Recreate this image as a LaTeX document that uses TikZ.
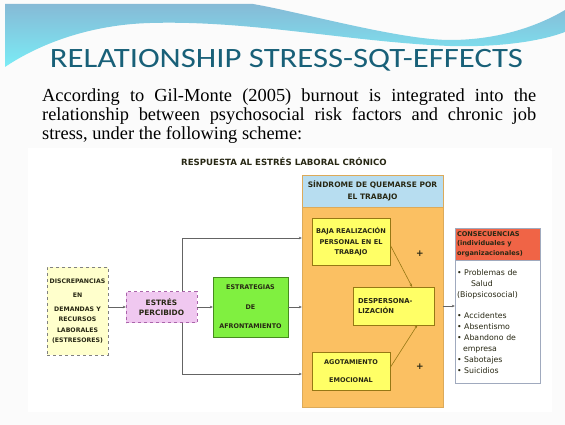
\documentclass[tikz,border=0pt]{standalone}
\usepackage{fontspec}
\usepackage{graphicx}
\setmainfont{Liberation Serif}
\newfontfamily\titlefont{Carlito}
\newfontfamily\dfont{DejaVu Sans}
\usetikzlibrary{arrows.meta}
\definecolor{bgcol}{RGB}{251,251,251}
\definecolor{titlecol}{RGB}{24,96,120}
\definecolor{bantop}{RGB}{134,186,214}
\definecolor{banbot}{RGB}{122,236,246}
\definecolor{orangefill}{RGB}{251,192,98}
\definecolor{orangeline}{RGB}{220,170,90}
\definecolor{headblue}{RGB}{183,221,240}
\definecolor{yellowfill}{RGB}{255,255,102}
\definecolor{yellowline}{RGB}{150,120,20}
\definecolor{greenfill}{RGB}{128,240,64}
\definecolor{greenline}{RGB}{70,140,30}
\definecolor{pinkfill}{RGB}{240,200,240}
\definecolor{pinkline}{RGB}{170,100,170}
\definecolor{paleyellow}{RGB}{255,255,204}
\definecolor{consred}{RGB}{240,100,70}
\definecolor{consline}{RGB}{160,170,190}
\definecolor{linecol}{RGB}{100,100,100}
\definecolor{txtcol}{RGB}{40,40,20}
\begin{document}
\begin{tikzpicture}[x=1pt,y=-1pt,
  box/.style={draw, inner sep=0pt, align=center, text=txtcol},
  bt/.style={font=\dfont\bfseries\fontsize{#1}{#1}\selectfont},
  arr/.style={draw=linecol, line width=0.6pt, -{Stealth[length=3pt,width=2.6pt]}},
  inarr/.style={draw=yellowline, line width=0.6pt, -{Stealth[length=3pt,width=2.6pt]}},
  plus/.style={font=\dfont\bfseries\fontsize{9}{9}\selectfont, text=txtcol, inner sep=0pt}
]
\useasboundingbox (0,0) rectangle (565,425);
\fill[bgcol] (0,0) rectangle (565,425);
% banner
\shade[top color=bantop, bottom color=banbot]
  (5,4) -- (253,4) .. controls (300,12) and (400,40) .. (450,40)
  .. controls (500,40) and (540,25) .. (565,10) -- (565,32)
  .. controls (530,45) and (480,47) .. (450,46)
  .. controls (350,42) and (250,20) .. (150,23)
  .. controls (80,25) and (30,50) .. (5,67) -- cycle;
% title
\node[anchor=base, inner sep=0pt, text=titlecol, font=\titlefont\fontsize{28}{28}\selectfont] (title) at (286.5,68) {\scalebox{1.17}[1]{RELATIONSHIP STRESS-SQT-EFFECTS}};
% paragraph
\node[anchor=north west, inner sep=0pt, text width=494pt, align=justify, font=\fontsize{18.4}{19}\selectfont] (para) at (42,88.5)
  {According to Gil-Monte (2005) burnout is integrated into the\linebreak relationship between psychosocial risk factors and chronic job\linebreak stress, under the following scheme:};
% diagram background
\fill[white] (28,148) rectangle (552,412);
\node[bt=8.6, text=txtcol, inner sep=0pt] (head) at (284,162) {RESPUESTA AL ESTRÉS LABORAL CRÓNICO};
% boxes
\node[box, fill=paleyellow, draw=gray, dashed, minimum width=61pt, minimum height=88pt, bt=6.2] (disc) at (77.5,311)
  {DISCREPANCIAS\\[8pt] EN\\[8pt] DEMANDAS Y\\[4pt] RECURSOS\\[4pt] LABORALES\\[4pt] (ESTRESORES)};
\node[box, fill=pinkfill, draw=pinkline, dashed, minimum width=71pt, minimum height=31pt, bt=7.4] (perc) at (161.5,307)
  {ESTRÉS\\[3pt] PERCIBIDO};
\node[box, fill=greenfill, draw=greenline, minimum width=75pt, minimum height=60pt, bt=6.4] (estr) at (250.5,307)
  {ESTRATEGIAS\\[13pt] DE\\[13pt] AFRONTAMIENTO};
\node[box, fill=orangefill, draw=orangeline, minimum width=141pt, minimum height=232pt] (burn) at (372.5,291) {};
\node[box, fill=headblue, draw=orangeline, minimum width=141pt, minimum height=32pt, bt=7.5] (sqt) at (372.5,191)
  {SÍNDROME DE QUEMARSE POR\\[5pt] EL TRABAJO};
\node[box, fill=yellowfill, draw=yellowline, minimum width=78pt, minimum height=47pt, bt=6.6] (baja) at (351,241.5)
  {BAJA REALIZACIÓN\\[4pt] PERSONAL EN EL\\[3pt] TRABAJO};
\node[box, fill=yellowfill, draw=yellowline, minimum width=81pt, minimum height=38pt, bt=6.8, align=left, text width=71pt] (desp) at (393.5,306)
  {DESPERSONA-\\[4pt] LIZACIÓN};
\node[box, fill=yellowfill, draw=yellowline, minimum width=78pt, minimum height=38pt, bt=6.5] (agot) at (351,371)
  {AGOTAMIENTO\\[12pt] EMOCIONAL};
\node[plus] (p1) at (420,254) {+};
\node[plus] (p2) at (420,367) {+};
\node[box, fill=consred, draw=consline, minimum width=85pt, minimum height=32pt, bt=6.6, align=left, text width=81pt] (conh) at (497.5,244)
  {CONSECUENCIAS\\[3pt] (individuales y\\[3pt] organizacionales)};
\node[box, fill=white, draw=consline, minimum width=85pt, minimum height=123pt, align=left, text width=81pt,
      font=\dfont\fontsize{7.8}{11}\selectfont] (conb) at (497.5,321.5)
  {\textbullet{} Problemas de\\ \hspace*{14pt}Salud\\ (Biopsicosocial)\\[10pt] \textbullet{} Accidentes\\ \textbullet{} Absentismo\\ \textbullet{} Abandono de\\ \hspace*{6pt}empresa\\ \textbullet{} Sabotajes\\ \textbullet{} Suicidios};
% connectors
\coordinate (tl) at (182,238);
\coordinate (bl) at (182,374);
\draw[arr] (disc.east |- perc.west) -- (perc.west);
\draw[arr] (perc.east) -- (estr.west);
\draw[arr] (estr.east) -- (estr.east -| burn.west);
\draw[arr] (perc.north -| tl) -- (tl) -- (tl -| burn.west);
\draw[arr] (perc.south -| bl) -- (bl) -- (bl -| burn.west);
\draw[arr] (desp.east -| burn.east) -- (desp.east -| conb.west);
\draw[inarr] (baja.-5) -- (desp.46);
\draw[inarr] (agot.5) -- (desp.-39);
\end{tikzpicture}
\end{document}
